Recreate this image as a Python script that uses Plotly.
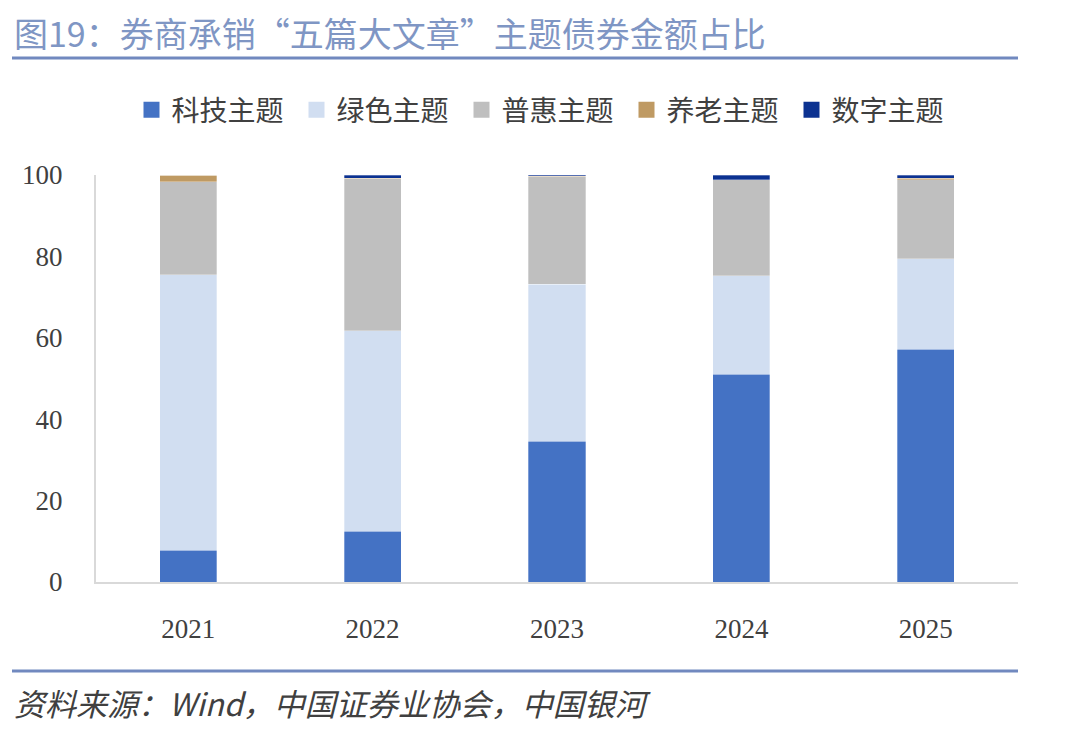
import plotly.graph_objects as go

# 券商承销“五篇大文章”主题债券金额占比（%）
years = ["2021", "2022", "2023", "2024", "2025"]
tech = [7.8, 12.5, 34.6, 51.1, 57.2]       # 科技主题
green = [67.7, 49.2, 38.5, 24.1, 22.2]     # 绿色主题
inclusive = [22.9, 37.4, 26.5, 23.6, 19.4] # 普惠主题
pension = [1.6, 0.1, 0.1, 0.0, 0.4]        # 养老主题
digital = [0.0, 0.8, 0.3, 1.2, 0.8]        # 数字主题

names = ["科技主题", "绿色主题", "普惠主题", "养老主题", "数字主题"]
colors = ["#4472C4", "#D1DEF1", "#BFBFBF", "#BF9A63", "#0C3291"]
series = [tech, green, inclusive, pension, digital]

cjk = "Noto Sans CJK SC"

# page body adds ~8px offset, so margins are shifted accordingly
W, H = 1080, 732
ML, MR, MT, MB = 88, 70, 167, 158
plot_h = H - MT - MB

def py(pix):
    # reference pixel row -> paper y
    return (H - MB - (pix - 8)) / plot_h

def px(pix):
    return (pix - 8 - ML) / (W - ML - MR)

fig = go.Figure()
for nm, vals, c in zip(names, series, colors):
    fig.add_trace(go.Bar(
        x=years, y=vals, name=nm, legendgroup=nm, showlegend=False,
        marker=dict(color=c, line=dict(color="rgba(255,255,255,0.6)", width=0.5)),
        width=0.31,
    ))
# legend entries with bigger square swatches
for nm, c in zip(names, colors):
    fig.add_trace(go.Scatter(
        x=[years[0]], y=[None], name=nm, legendgroup=nm, mode="markers",
        marker=dict(symbol="square", size=17, color=c),
    ))

fig.update_layout(
    barmode="stack",
    width=W, height=H,
    margin=dict(l=ML, r=MR, t=MT, b=MB),
    paper_bgcolor="white", plot_bgcolor="white",
    showlegend=True,
    legend=dict(
        orientation="h", x=px(544), xanchor="center", y=py(110), yanchor="middle",
        font=dict(family=cjk, size=28, color="#404040"),
        itemwidth=30, entrywidth=120, traceorder="normal",
    ),
    font=dict(family=cjk, color="#404040"),
)

fig.update_xaxes(
    showline=True, linecolor="#D9D9D9", linewidth=2,
    tickfont=dict(family="Liberation Serif", size=27, color="#404040"),
    ticks="", ticklabelstandoff=22,
)
fig.update_yaxes(
    range=[0, 100], dtick=20, showgrid=False, zeroline=False,
    showline=True, linecolor="#D9D9D9", linewidth=2,
    tickfont=dict(family="Liberation Serif", size=27, color="#404040"),
    ticks="", ticklabelstandoff=26,
)

# 标题与分隔线
fig.add_annotation(
    text="图19：券商承销“五篇大文章”主题债券金额占比",
    xref="paper", yref="paper", x=px(12), y=py(33), yanchor="middle", xanchor="left",
    showarrow=False, font=dict(family=cjk, size=34, color="#7F96C4"),
)
fig.add_shape(type="line", xref="paper", yref="paper",
              x0=px(12), x1=px(1018), y0=py(58), y1=py(58),
              line=dict(color="#7189BF", width=3))
fig.add_shape(type="line", xref="paper", yref="paper",
              x0=px(12), x1=px(1018), y0=py(671), y1=py(671),
              line=dict(color="#7189BF", width=3))
fig.add_annotation(
    text="<i>资料来源：Wind，中国证券业协会，中国银河</i>",
    xref="paper", yref="paper", x=px(12), y=py(702), xanchor="left", yanchor="middle",
    showarrow=False, font=dict(family=cjk, size=31, color="#404040"),
)

fig.write_html("out.html")
